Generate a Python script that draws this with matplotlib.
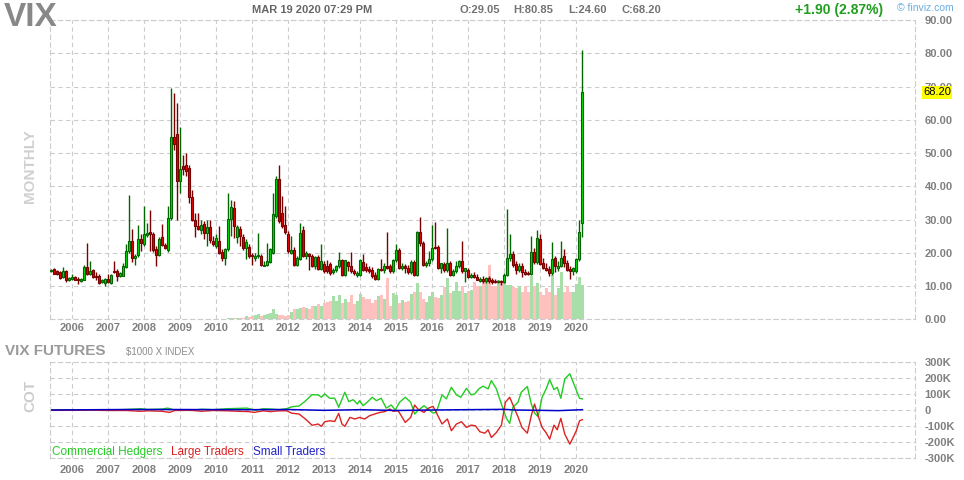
import numpy as np
import pandas as pd
import matplotlib
matplotlib.use('Agg')
import matplotlib.pyplot as plt
from matplotlib.transforms import blended_transform_factory

plt.rcParams['font.family'] = ['Liberation Sans', 'DejaVu Sans']

W, H = 964, 480

# monthly VIX futures candles, Jun 2005 .. Mar 2020
months = pd.date_range('2005-06-01', '2020-03-01', freq='MS')

opens = [14.5, 15.1, 14.4, 14.2, 12.7, 14.6, 11.7,
         12.1, 12.7, 12.2, 11.5, 11.9, 15.7, 13.7, 14.8, 12.9, 12.9, 11.1, 10.9,
         12.2, 10.9, 14.5, 14.6, 13.0, 13.1, 15.7, 20.4, 23.6, 18.4, 19.2, 24.2,
         22.6, 25.2, 26.2, 25.7, 21.1, 19.2, 24.8, 22.3, 20.7, 30.5, 54.7, 55.7,
         41.6, 46.0, 46.3, 45.6, 36.9, 30.0, 28.0, 26.8, 28.8, 26.0, 27.8, 23.5,
         22.0, 23.5, 20.1, 18.4, 21.1, 30.2, 33.5, 24.8, 27.2, 24.8, 21.5, 21.8,
         19.4, 18.4, 18.9, 19.1, 16.1, 16.3, 17.2, 19.9, 31.0, 42.1, 32.0, 28.5,
         25.8, 19.9, 20.7, 16.4, 18.1, 27.0, 19.0, 19.7, 19.0, 15.9, 18.7, 15.1,
         16.7, 15.9, 16.7, 14.1, 14.9, 15.9, 17.7, 13.4, 17.1, 16.1, 14.6, 13.4,
         13.4, 17.1, 15.6, 15.1, 14.9, 13.4, 12.1, 15.1, 14.9, 15.9, 15.9, 14.4,
         17.9, 20.7, 15.3, 16.1, 15.4, 14.1, 17.2, 13.4, 26.3, 23.0, 16.3, 16.9,
         18.2, 21.8, 21.8, 15.3, 16.7, 14.7, 16.9, 13.3, 14.4, 15.9, 17.4, 14.4,
         14.9, 12.7, 13.3, 12.7, 11.4, 12.2, 11.4, 12.4, 11.9, 11.4, 11.1, 11.4,
         11.1, 13.4, 18.4, 19.6, 16.7, 14.9, 16.1, 14.2, 13.8, 13.6, 20.3, 17.1,
         24.0, 16.9, 15.3, 15.1, 13.9, 18.4, 15.3, 16.1, 18.9, 16.9, 15.1, 14.4,
         14.4, 18.1, 29.05]

highs = [15.2, 15.3, 14.9, 14.5, 15.7, 14.8, 12.8,
         13.6, 13.0, 12.6, 12.4, 16.3, 22.8, 17.6, 15.2, 14.1, 13.7, 12.0, 12.3,
         13.7, 13.6, 17.6, 15.2, 14.2, 17.0, 22.6, 37.3, 27.3, 19.6, 28.3, 25.6,
         34.2, 29.0, 33.0, 26.3, 22.0, 24.7, 28.8, 23.0, 34.2, 69.6, 68.0, 65.0,
         57.7, 49.5, 50.0, 46.5, 39.0, 32.0, 32.0, 30.0, 29.5, 30.0, 30.0, 25.0,
         25.5, 28.0, 21.0, 21.5, 38.0, 36.0, 35.5, 28.5, 28.0, 25.5, 24.0, 22.5,
         20.0, 19.8, 26.0, 19.6, 17.5, 23.0, 21.5, 37.9, 43.0, 46.3, 37.0, 34.0,
         26.5, 25.0, 21.8, 19.0, 29.0, 28.2, 20.5, 20.0, 19.6, 18.9, 19.3, 22.5,
         17.5, 17.9, 17.2, 15.3, 16.3, 20.3, 18.2, 17.9, 17.6, 20.3, 15.2, 14.5,
         18.0, 19.7, 17.0, 16.0, 15.6, 14.2, 15.3, 18.1, 16.9, 26.4, 16.5, 18.2,
         22.5, 21.5, 16.8, 16.6, 16.4, 17.8, 17.9, 26.5, 30.8, 23.5, 17.5, 20.5,
         28.5, 29.3, 22.3, 17.0, 17.3, 27.5, 17.4, 15.2, 17.5, 17.9, 23.4, 15.3,
         15.5, 14.0, 14.2, 13.5, 12.6, 13.0, 12.8, 12.9, 12.3, 12.0, 11.8, 11.8,
         13.8, 33.3, 25.5, 20.5, 17.5, 17.0, 16.8, 15.0, 14.5, 25.0, 21.5, 27.0,
         25.5, 18.5, 16.8, 16.0, 23.3, 19.0, 17.5, 23.5, 21.0, 17.8, 16.0, 15.8,
         18.4, 29.9, 80.85]

lows = [14.2, 13.5, 13.4, 12.2, 12.5, 11.3, 11.5,
        11.9, 11.7, 10.6, 11.3, 11.7, 13.3, 13.4, 12.4, 11.8, 10.7, 10.8, 9.9,
        10.9, 10.6, 14.0, 11.4, 12.7, 12.9, 15.3, 19.8, 17.1, 16.3, 18.7, 20.5,
        22.0, 24.6, 20.5, 20.3, 15.9, 18.9, 22.0, 21.0, 20.3, 30.0, 51.0, 30.0,
        38.0, 43.5, 43.0, 35.0, 29.5, 24.8, 27.0, 25.5, 24.0, 22.0, 23.0, 22.0,
        21.5, 19.5, 17.5, 16.3, 20.5, 25.0, 24.5, 23.0, 22.0, 20.8, 18.0, 18.5,
        16.3, 17.6, 18.3, 16.0, 15.9, 16.0, 16.8, 19.5, 30.5, 29.0, 27.5, 25.5,
        20.0, 19.5, 16.0, 16.0, 17.8, 18.7, 18.2, 14.9, 15.8, 15.0, 14.8, 14.8,
        13.9, 13.8, 13.4, 13.5, 14.3, 15.5, 13.0, 13.0, 14.6, 14.0, 13.4, 12.8,
        13.0, 14.4, 14.2, 13.8, 12.5, 11.7, 11.8, 14.5, 13.8, 15.0, 13.9, 14.0,
        17.2, 15.0, 14.8, 13.8, 13.6, 13.5, 13.0, 13.0, 22.0, 16.0, 15.8, 16.0,
        17.5, 21.2, 15.0, 13.9, 14.3, 14.2, 13.0, 12.9, 14.0, 15.4, 14.0, 11.2,
        12.3, 12.4, 12.4, 11.7, 11.2, 11.0, 11.0, 11.0, 10.6, 10.9, 10.8, 10.3,
        10.9, 13.0, 17.6, 15.8, 13.5, 14.3, 12.8, 13.4, 13.2, 13.3, 16.5, 16.7,
        16.2, 15.0, 14.6, 13.0, 13.4, 14.2, 14.4, 15.6, 15.8, 14.4, 12.1, 13.4,
        13.8, 17.5, 24.60]

closes = [14.9, 13.7, 13.7, 12.4, 14.4, 11.7, 12.5,
          12.8, 11.9, 11.7, 12.2, 15.7, 13.7, 14.6, 12.7, 12.8, 10.9, 11.7, 12.1,
          11.1, 13.3, 14.2, 13.0, 13.9, 15.9, 20.5, 23.6, 18.4, 19.1, 24.2, 22.8,
          25.7, 26.0, 25.7, 20.9, 19.2, 24.2, 22.3, 21.5, 30.5, 54.7, 52.7, 41.6,
          45.1, 45.3, 44.6, 36.9, 30.0, 28.0, 27.2, 28.5, 26.0, 27.8, 23.8, 22.7,
          24.5, 19.9, 18.4, 21.1, 30.2, 33.8, 28.0, 27.8, 25.0, 21.5, 23.2, 19.1,
          18.9, 19.1, 19.4, 16.2, 16.4, 17.6, 21.1, 31.8, 42.3, 29.7, 28.2, 26.2,
          20.4, 20.9, 16.4, 18.4, 26.0, 19.0, 19.9, 19.0, 16.1, 18.7, 15.1, 17.4,
          14.4, 14.4, 13.9, 14.9, 15.9, 17.7, 13.4, 17.7, 15.9, 14.4, 13.9, 13.9,
          17.7, 14.9, 14.9, 14.4, 12.9, 12.1, 15.1, 14.9, 16.1, 15.4, 14.4, 17.9,
          20.7, 15.3, 16.1, 15.3, 14.1, 17.2, 13.4, 26.3, 22.8, 16.3, 16.9, 18.2,
          21.5, 21.5, 15.3, 16.9, 14.7, 16.9, 13.3, 14.4, 15.9, 17.4, 14.4, 15.3,
          12.7, 13.4, 12.7, 11.9, 12.2, 11.4, 12.4, 11.4, 11.1, 11.2, 11.4, 11.1,
          13.4, 18.4, 19.6, 16.4, 14.9, 16.1, 14.3, 13.7, 13.5, 20.3, 17.1, 24.3,
          16.7, 15.3, 14.7, 13.9, 18.2, 15.9, 16.1, 18.4, 16.9, 14.9, 14.4, 15.3,
          18.1, 26.3, 68.20]

# volume (relative units, drawn in the bottom of the price pane)
volume = [0, 0, 0, 0, 0, 0, 0,
          0, 0, 0, 0, 0, 0, 0, 0, 0, 0, 0, 0,
          0, 0, 0, 0, 0, 0, 0, 0, 0, 0.1, 0.1, 0.1,
          0, 0, 0, 0, 0, 0, 0, 0, 0, 0, 0, 0,
          0, 0, 0, 0, 0, 0, 0, 0, 0, 0.15, 0.2, 0.2,
          0.15, 0.2, 0.2, 0.2, 0.4, 0.3, 0.3, 0.4, 0.4, 0.5, 1.0, 0.8,
          1.0, 1.3, 1.6, 1.0, 1.2, 1.7, 1.8, 3.0, 1.7, 1.3, 1.3, 0.9,
          1.2, 2.2, 3.2, 3.0, 3.3, 3.7, 3.4, 3.0, 4.0, 4.0, 4.6, 4.0,
          4.8, 5.2, 5.5, 7.0, 5.6, 7.4, 4.8, 6.0, 5.2, 7.3, 4.6, 5.5,
          7.7, 6.8, 6.0, 6.2, 4.9, 5.8, 7.0, 7.4, 6.1, 12.5, 4.1, 7.9,
          7.4, 4.8, 5.8, 5.2, 5.5, 7.7, 8.3, 11.0, 8.3, 6.1, 5.2, 7.0,
          8.2, 6.8, 6.3, 7.4, 9.7, 12.5, 7.9, 8.6, 11.3, 8.6, 10.1, 7.9,
          8.4, 8.9, 11.2, 9.9, 9.9, 11.1, 12.4, 16.3, 10.1, 9.9, 11.7, 10.9,
          12.5, 10.4, 10.2, 9.7, 9.3, 10.1, 8.1, 10.1, 8.1, 13.1, 10.1, 10.9,
          8.1, 7.4, 9.5, 8.1, 13.4, 7.4, 9.3, 14.3, 8.3, 10.1, 8.3, 8.3,
          10.5, 12.8, 10.4]

# COT net positions (thousands of contracts)
comm_years = [2005.42, 2006.0, 2006.5, 2007.0, 2007.5, 2007.9, 2008.1, 2008.5, 2008.65,
              2008.8, 2009.3, 2009.6, 2009.9, 2010.3, 2010.6, 2010.85, 2011.1, 2011.3,
              2011.5, 2011.75, 2011.95, 2012.1, 2012.3, 2012.47, 2012.66,
              2012.83, 2012.92, 2013.01, 2013.15, 2013.29, 2013.40, 2013.57, 2013.68,
              2013.80, 2013.92, 2013.98, 2014.08, 2014.21, 2014.33, 2014.45, 2014.58,
              2014.72, 2014.86, 2014.97, 2015.09, 2015.25, 2015.40, 2015.51, 2015.60,
              2015.77, 2015.88, 2016.02, 2016.11, 2016.27, 2016.39, 2016.53, 2016.67,
              2016.79, 2016.95, 2017.08, 2017.18, 2017.29, 2017.41, 2017.55, 2017.64,
              2017.78, 2017.92, 2018.06, 2018.15, 2018.24, 2018.38, 2018.47, 2018.64,
              2018.75, 2018.84, 2018.94, 2019.05, 2019.17, 2019.26, 2019.38, 2019.47,
              2019.57, 2019.68, 2019.82, 2019.95, 2020.09, 2020.17]
comm_k = [2, 0, 2, 0, 3, 8, 3, 6, 12,
          2, -3, 5, 2, 8, 10, 12, -2, 8,
          6, 2, 8, 20, 25, 55, 95,
          94, 79, 100, 73, 73, 17, 110, 52,
          64, 37, 58, 27, 52, 79, 58, 73,
          12, 31, 0, 48, 79, 48, -25, -4,
          27, 6, -19, -15, 94, 69, 141, 94,
          79, 135, 94, 100, 131, 148, 131, 183,
          131, 37, -52, -83, 17, 48, 110, 146,
          37, -19, -42, 79, 135, 189, 127, 141,
          73, 193, 225, 152, 73, 69]

large_years = [2005.42, 2006.0, 2006.5, 2007.0, 2007.5, 2007.9, 2008.1, 2008.5, 2008.7,
               2008.85, 2009.3, 2009.6, 2009.9, 2010.3, 2010.6, 2010.9, 2011.05, 2011.3,
               2011.5, 2011.75, 2011.95, 2012.1, 2012.3, 2012.47, 2012.66,
               2012.83, 2012.92, 2013.01, 2013.15, 2013.29, 2013.40, 2013.49, 2013.57,
               2013.71, 2013.85, 2013.98, 2014.12, 2014.26, 2014.40, 2014.54, 2014.68,
               2014.82, 2014.91, 2015.05, 2015.25, 2015.40, 2015.51, 2015.60, 2015.77,
               2015.88, 2016.02, 2016.11, 2016.27, 2016.42, 2016.53, 2016.67, 2016.81,
               2016.95, 2017.08, 2017.20, 2017.32, 2017.46, 2017.55, 2017.64, 2017.78,
               2017.92, 2018.03, 2018.15, 2018.29, 2018.38, 2018.49, 2018.64, 2018.75,
               2018.84, 2018.94, 2019.05, 2019.17, 2019.26, 2019.38, 2019.47, 2019.57,
               2019.68, 2019.82, 2019.91, 2020.00, 2020.09, 2020.17]
large_k = [-2, -2, -1, -3, -3, -8, -5, -8, -15,
           -3, -2, -8, -3, -5, -8, -10, -15, -5,
           -10, -5, -5, -20, -25, -55, -95,
           -87, -102, -73, -67, -71, -21, -87, -102,
           -46, -56, -46, -56, -35, -25, -15, -10,
           6, -8, -4, -77, -46, 31, 6, -15,
           10, 23, -15, -87, -56, -129, -87, -73,
           -108, -94, -98, -135, -144, -123, -171, -140,
           -94, 48, 79, 4, -42, -108, -144, -35,
           37, -35, -108, -144, -181, -94, -123, -52,
           -150, -212, -171, -129, -67, -60]

small_years = [2005.42, 2007.5, 2008.7, 2011.0, 2012.0, 2013.0, 2014.0, 2015.0,
               2016.0, 2017.0, 2018.0, 2018.3, 2019.0, 2019.5, 2020.17]
small_k = [0, 3, 3, 2, 3, -2, 2, -3, 0, 2, 4, 0, -2, -4, 2]

opens, highs, lows, closes = map(np.array, (opens, highs, lows, closes))
volume = np.array(volume)
x = np.array(months.year + (months.month - 1) / 12.0)
up = closes >= opens

fig = plt.figure(figsize=(W / 100, H / 100), dpi=100)
x0 = 2005.3806
xr = x0 + 865 / 36.0
grid_kw = dict(color='#cccccc', linestyle=(0, (4, 3)), linewidth=0.8)


def style(ax, ylim, yticks, ylabels, xpad):
    ax.set_xlim(x0, xr)
    ax.set_ylim(*ylim)
    ax.set_xticks(range(2006, 2021))
    ax.set_xticklabels([str(y) for y in range(2006, 2021)], fontweight='bold')
    ax.set_yticks(yticks)
    ax.set_yticklabels(ylabels, fontweight='bold')
    ax.yaxis.tick_right()
    ax.tick_params(axis='both', length=0, labelsize=8, colors='#808080')
    ax.tick_params(axis='y', pad=7)
    ax.tick_params(axis='x', pad=xpad)
    ax.grid(True, **grid_kw)
    ax.set_axisbelow(True)
    for s in ax.spines.values():
        s.set_color('#cccccc')
        s.set_linestyle((0, (4, 3)))
        s.set_linewidth(0.8)


# price pane
ax = fig.add_axes([50 / W, 1 - 319.3 / H, 865 / W, 299.3 / H])
style(ax, (0, 90), range(0, 100, 10), ['%.2f' % v for v in range(0, 100, 10)], 3)

vol_colors = np.where(up, '#a8dfa8', '#ffc0c0')
ax.bar(x, volume, width=0.9 / 12, color=vol_colors, zorder=1)

wick_colors = np.where(up, '#006600', '#7a0000')
ax.vlines(x, lows, highs, colors=wick_colors, linewidth=1.0, zorder=3)
body_fill = np.where(up, '#00dd00', '#ee0000')
body_edge = np.where(up, '#006600', '#7a0000')
ax.bar(x, np.abs(closes - opens), bottom=np.minimum(opens, closes), width=0.72 / 12,
       color=body_fill, edgecolor=body_edge, linewidth=0.8, zorder=4)

trans = blended_transform_factory(ax.transAxes, ax.transData)
ax.text(1 + 8 / 865, closes[-1], '%.2f' % closes[-1], transform=trans, fontsize=8,
        color='black', va='center', ha='left', zorder=10, clip_on=False,
        bbox=dict(boxstyle='square,pad=0.12', fc='#ffff00', ec='none'))

# COT pane
ax2 = fig.add_axes([50 / W, 1 - 458.3 / H, 865 / W, 96.6 / H])
style(ax2, (-300, 300), range(-300, 400, 100),
      ['-300K', '-200K', '-100K', '0', '100K', '200K', '300K'], 5)
ax2.plot(comm_years, comm_k, color='#22cc22', linewidth=1.0)
ax2.plot(large_years, large_k, color='#dd2222', linewidth=1.0)
ax2.plot(small_years, small_k, color='#0000cc', linewidth=1.1)


def ftext(px, py, s, **kw):
    fig.text(px / W, 1 - py / H, s, **kw)


ftext(4, 18, 'VIX', fontsize=24, fontweight='bold', color='#888888', va='center')
ftext(252, 10, 'MAR 19 2020 07:29 PM', fontsize=8, fontweight='bold', color='#666666', va='center')
ftext(459, 10, 'O:29.05', fontsize=8, fontweight='bold', color='#737373', va='center')
ftext(513, 10, 'H:80.85', fontsize=8, fontweight='bold', color='#737373', va='center')
ftext(568, 10, 'L:24.60', fontsize=8, fontweight='bold', color='#737373', va='center')
ftext(621, 10, 'C:68.20', fontsize=8, fontweight='bold', color='#737373', va='center')
ftext(795, 10, '+1.90 (2.87%)', fontsize=10, fontweight='bold', color='#1f9e1f', va='center')
ftext(897, 8, '© finviz.com', fontsize=7.5, color='#6aaee0', va='center')
ftext(30, 166, 'MONTHLY', fontsize=11, fontweight='bold', color='#d0d0d0',
      rotation=90, ha='center', va='center')
ftext(5, 351, 'VIX FUTURES', fontsize=11, fontweight='bold', color='#9a9a9a', va='center')
ftext(126, 352, '$1000 X INDEX', fontsize=7, color='#8c8c8c', va='center')
ftext(30, 396, 'COT', fontsize=11, fontweight='bold', color='#cccccc',
      rotation=90, ha='center', va='center')
ftext(52, 452, 'Commercial Hedgers', fontsize=8.5, color='#22cc22', va='center')
ftext(171, 452, 'Large Traders', fontsize=8.5, color='#dd2222', va='center')
ftext(253, 452, 'Small Traders', fontsize=8.5, color='#2222cc', va='center')

fig.savefig('out.png', dpi=100)
